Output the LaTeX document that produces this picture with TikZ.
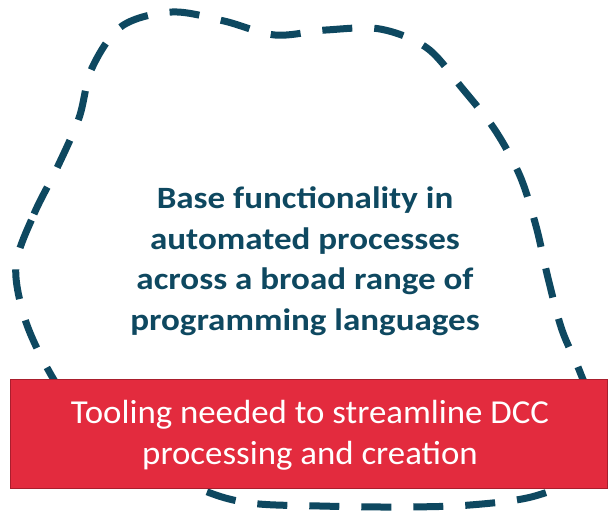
\documentclass[tikz,border=0pt]{standalone}
\usepackage{fontspec}
\setmainfont{Carlito}
\newfontfamily\bluefont[FakeStretch=1.13]{Carlito}
\newfontfamily\redfont[FakeStretch=1.04]{Carlito}
\definecolor{blobblue}{RGB}{14,72,96}
\definecolor{boxred}{RGB}{227,43,62}
\definecolor{boxedge}{RGB}{170,30,45}
\tikzset{
  blobline/.style={draw=blobblue, line width=7pt, dash pattern=on 30pt off 22pt},
  redbox/.style={fill=boxred, draw=boxedge, line width=0.8pt},
  bluetext/.style={text=blobblue, align=center, font=\bluefont\fontsize{31}{40.5}\selectfont\bfseries},
  whitetext/.style={text=white, align=center, font=\redfont\fontsize{33.5}{41}\selectfont}
}
\begin{document}
\begin{tikzpicture}[x=1pt,y=-1pt]
\useasboundingbox (0,0) rectangle (608,512);
\draw[blobline] plot[smooth cycle, tension=0.55] coordinates {
 (16,265) (34,214) (57,168) (79,118) (92,68) (122,26) (172,12) (224,21)
 (275,35) (326,30) (380,29) (427,48) (462,88) (495,130) (520,176) (536,226)
 (548,278) (562,330) (580,372) (598,425) (585,472) (535,496) (470,505)
 (400,507) (320,506) (250,503) (200,489) (120,450) (75,410) (45,364) (24,316)};
\node[bluetext] (core) at (305,261) {Base functionality in\\automated processes\\across a broad range of\\programming languages};
\draw[redbox] (10,379) rectangle (607,488);
\node[whitetext] (tool) at (310,435.5) {Tooling needed to streamline DCC\\processing and creation};
\end{tikzpicture}
\end{document}
